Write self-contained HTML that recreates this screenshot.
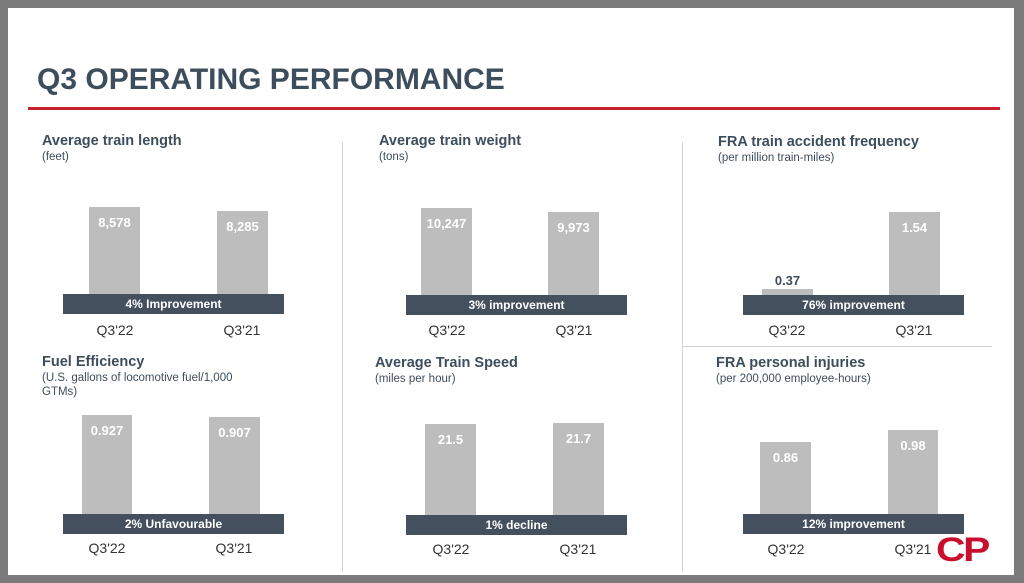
<!DOCTYPE html>
<html><head><style>
body{margin:0;width:1024px;height:583px;background:#7b7b7b;position:relative;overflow:hidden;font-family:"Liberation Sans",sans-serif}
.s{position:absolute;left:8px;top:8px;width:1006px;height:567px;background:#fff}
.a{position:absolute}
h1{position:absolute;left:37px;top:63px;margin:0;font-size:30px;font-weight:bold;color:#3e4d5c;letter-spacing:0px}
.t{position:absolute;font-size:14.5px;font-weight:bold;color:#3e4d5c}
.st{position:absolute;font-size:11.5px;color:#3e4d5c;line-height:14px}
.b{position:absolute;background:#bdbdbd;color:#fff;font-weight:bold;font-size:13px;text-align:center;padding-top:8px;box-sizing:border-box}
.bn{position:absolute;background:#44505e;color:#fff;font-weight:bold;font-size:12px;text-align:center;height:20px;line-height:20px;width:221px}
.q{position:absolute;font-size:14px;color:#333;width:60px;text-align:center}
</style></head><body>
<div class="s"></div>
<h1>Q3 OPERATING PERFORMANCE</h1>
<div class="a" style="left:28px;top:107px;width:972px;height:3px;background:#c8202f"></div>
<div class="a" style="left:342px;top:142px;width:1px;height:430px;background:#d0d4d8"></div>
<div class="a" style="left:682px;top:142px;width:1px;height:430px;background:#d0d4d8"></div>
<div class="a" style="left:682px;top:346px;width:310px;height:1px;background:#d0d4d8"></div>

<div class="t" style="left:42px;top:133px">Average train length</div><div class="st" style="left:42px;top:150px">(feet)</div>
<div class="b" style="left:89px;top:207px;width:51px;height:87px">8,578</div>
<div class="b" style="left:217px;top:211px;width:51px;height:83px">8,285</div>
<div class="bn" style="left:63px;top:294px">4% Improvement</div>
<div class="q" style="left:85px;top:322px">Q3'22</div><div class="q" style="left:212px;top:322px">Q3'21</div>

<div class="t" style="left:379px;top:133px">Average train weight</div><div class="st" style="left:379px;top:150px">(tons)</div>
<div class="b" style="left:421px;top:208px;width:51px;height:87px">10,247</div>
<div class="b" style="left:548px;top:212px;width:51px;height:83px">9,973</div>
<div class="bn" style="left:406px;top:295px">3% improvement</div>
<div class="q" style="left:417px;top:322px">Q3'22</div><div class="q" style="left:544px;top:322px">Q3'21</div>

<div class="t" style="left:718px;top:134px">FRA train accident frequency</div><div class="st" style="left:718px;top:151px">(per million train-miles)</div>
<div class="a" style="left:762px;top:289px;width:51px;height:6px;background:#bdbdbd"></div>
<div class="a" style="left:762px;top:273px;width:51px;text-align:center;font-weight:bold;font-size:13px;color:#3e4d5c">0.37</div>
<div class="b" style="left:889px;top:212px;width:51px;height:83px">1.54</div>
<div class="bn" style="left:743px;top:295px">76% improvement</div>
<div class="q" style="left:757px;top:322px">Q3'22</div><div class="q" style="left:884px;top:322px">Q3'21</div>

<div class="t" style="left:42px;top:354px">Fuel Efficiency</div><div class="st" style="left:42px;top:371px">(U.S. gallons of locomotive fuel/1,000<br>GTMs)</div>
<div class="b" style="left:82px;top:415px;width:50px;height:99px">0.927</div>
<div class="b" style="left:209px;top:417px;width:51px;height:97px">0.907</div>
<div class="bn" style="left:63px;top:514px">2% Unfavourable</div>
<div class="q" style="left:77px;top:540px">Q3'22</div><div class="q" style="left:204px;top:540px">Q3'21</div>

<div class="t" style="left:375px;top:355px">Average Train Speed</div><div class="st" style="left:375px;top:372px">(miles per hour)</div>
<div class="b" style="left:425px;top:424px;width:51px;height:91px">21.5</div>
<div class="b" style="left:553px;top:423px;width:51px;height:92px">21.7</div>
<div class="bn" style="left:406px;top:515px">1% decline</div>
<div class="q" style="left:421px;top:541px">Q3'22</div><div class="q" style="left:548px;top:541px">Q3'21</div>

<div class="t" style="left:716px;top:355px">FRA personal injuries</div><div class="st" style="left:716px;top:372px">(per 200,000 employee-hours)</div>
<div class="b" style="left:760px;top:442px;width:51px;height:72px">0.86</div>
<div class="b" style="left:888px;top:430px;width:50px;height:84px">0.98</div>
<div class="bn" style="left:743px;top:514px">12% improvement</div>
<div class="q" style="left:756px;top:541px">Q3'22</div><div class="q" style="left:883px;top:541px">Q3'21</div>

<div class="a" style="left:936px;top:531px;font-size:34px;font-weight:900;color:#c8102e;letter-spacing:-2px;transform:scaleX(1.2);transform-origin:left">CP</div>
</body></html>
